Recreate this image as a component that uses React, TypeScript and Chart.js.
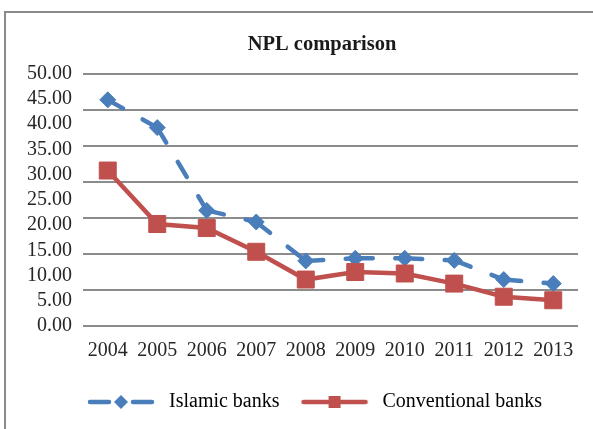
import React, { useEffect, useRef } from "react";
import { Chart, registerables } from "chart.js";

Chart.register(...registerables);

const years = ["2004", "2005", "2006", "2007", "2008", "2009", "2010", "2011", "2012", "2013"];
const islamicBanks = [44.8, 39.3, 22.9, 20.6, 12.9, 13.4, 13.4, 13.0, 9.2, 8.4];
const conventionalBanks = [30.8, 20.2, 19.4, 14.7, 9.2, 10.7, 10.4, 8.4, 5.8, 5.1];
const seriesNames = ["Islamic banks", "Conventional banks"];
const chartTitle = "NPL comparison";
const yMin = 0;
const yMax = 50;
const yLabelStep = 5;
const gridLineCount = 8;

const BLUE = "#4A7EBB";
const RED = "#C0504D";
const FONT = "'Liberation Serif', 'Times New Roman', serif";

function makeLegendImage(kind: "blue" | "red"): HTMLCanvasElement {
  const c = document.createElement("canvas");
  c.width = 68;
  c.height = 16;
  const g = c.getContext("2d")!;
  g.lineWidth = 4.5;
  if (kind === "blue") {
    g.strokeStyle = BLUE;
    g.lineCap = "round";
    g.beginPath();
    g.moveTo(3, 8);
    g.lineTo(22, 8);
    g.moveTo(46, 8);
    g.lineTo(65, 8);
    g.stroke();
    g.fillStyle = BLUE;
    g.beginPath();
    g.moveTo(34, 1);
    g.lineTo(41, 8);
    g.lineTo(34, 15);
    g.lineTo(27, 8);
    g.closePath();
    g.fill();
  } else {
    g.strokeStyle = RED;
    g.lineCap = "round";
    g.beginPath();
    g.moveTo(3, 8);
    g.lineTo(65, 8);
    g.stroke();
    g.fillStyle = RED;
    g.fillRect(28, 2, 12, 12);
  }
  return c;
}

const shiftBlocks = {
  id: "shiftBlocks",
  afterLayout(chart: any) {
    if (chart.titleBlock) chart.titleBlock.left = 66;
    if (chart.legend) {
      chart.legend.left = 66;
      chart.legend.width = chart.legend.right - 66;
    }
  },
};

export default function App() {
  const ref = useRef<HTMLCanvasElement>(null);

  useEffect(() => {
    const canvas = ref.current!;
    const blueImg = makeLegendImage("blue");
    const redImg = makeLegendImage("red");
    const chart = new Chart(canvas, {
      type: "line",
      plugins: [shiftBlocks],
      data: {
        labels: years,
        datasets: [
          {
            label: seriesNames[0],
            data: islamicBanks,
            borderColor: BLUE,
            backgroundColor: BLUE,
            borderWidth: 4.5,
            borderDash: [17.5, 22.5],
            borderCapStyle: "round",
            pointStyle: "rectRot",
            pointRadius: 8,
            pointBorderWidth: 1,
            pointBackgroundColor: BLUE,
            pointBorderColor: BLUE,
            tension: 0,
            order: 1,
            segment: {
              borderDashOffset: (ctx: any) => (ctx.p0DataIndex % 2) * 0.001,
            },
          } as any,
          {
            label: seriesNames[1],
            data: conventionalBanks,
            borderColor: RED,
            backgroundColor: RED,
            borderWidth: 4.5,
            pointStyle: "rect",
            pointRadius: 12,
            pointBorderWidth: 1,
            pointBackgroundColor: RED,
            pointBorderColor: RED,
            tension: 0,
            order: 0,
          },
        ],
      },
      options: {
        animation: false,
        responsive: false,
        devicePixelRatio: 1,
        layout: { padding: { left: 0, right: 15, top: 0, bottom: 7 } },
        plugins: {
          tooltip: { enabled: false },
          title: {
            display: true,
            text: chartTitle,
            color: "#1a1a1a",
            font: { family: FONT, size: 20.5, weight: "bold" },
            padding: { top: 32, bottom: 17 },
          },
          legend: {
            position: "bottom",
            align: "start",
            labels: {
              usePointStyle: true,
              pointStyleWidth: 76,
              boxHeight: 16,
              padding: 17,
              color: "#262626",
              font: { family: FONT, size: 20 },
              generateLabels: () => [
                { text: seriesNames[0], pointStyle: blueImg as any, fillStyle: BLUE, strokeStyle: BLUE, lineWidth: 0, hidden: false, datasetIndex: 0 },
                { text: seriesNames[1], pointStyle: redImg as any, fillStyle: RED, strokeStyle: RED, lineWidth: 0, hidden: false, datasetIndex: 1 },
              ],
            },
          },
        },
        scales: {
          x: {
            offset: true,
            grid: { display: false, drawTicks: false },
            border: { display: false },
            ticks: {
              color: "#262626",
              font: { family: FONT, size: 20 },
              padding: 12.5,
              maxRotation: 0,
              autoSkip: false,
            },
          },
          y: {
            position: "left",
            min: yMin,
            max: yMax,
            grid: { display: false, drawTicks: false },
            border: { display: false },
            ticks: {
              stepSize: yLabelStep,
              autoSkip: false,
              padding: 11,
              color: "#262626",
              font: { family: FONT, size: 20 },
              callback: (v: any) => Number(v).toFixed(2),
            },
            afterFit: (s: any) => {
              s.width = 83;
            },
          },
          yGrid: {
            position: "left",
            min: yMin,
            max: yMax,
            grid: { color: "#8c8c8c", lineWidth: 2, drawTicks: false },
            border: { display: false },
            ticks: { display: false, count: gridLineCount },
            afterFit: (s: any) => {
              s.width = 0;
            },
          },
        },
      } as any,
    });
    return () => chart.destroy();
  }, []);

  return (
    <div style={{ position: "fixed", left: 0, top: 0, width: 593, height: 429, background: "#fff", overflow: "hidden" }}>
      <div
        style={{
          position: "absolute",
          left: 4,
          top: 11,
          width: 600,
          height: 430,
          borderTop: "2px solid #8a8a8a",
          borderLeft: "2px solid #8a8a8a",
        }}
      />
      <canvas ref={ref} width={593} height={429} style={{ position: "absolute", left: 0, top: 0 }} />
    </div>
  );
}
